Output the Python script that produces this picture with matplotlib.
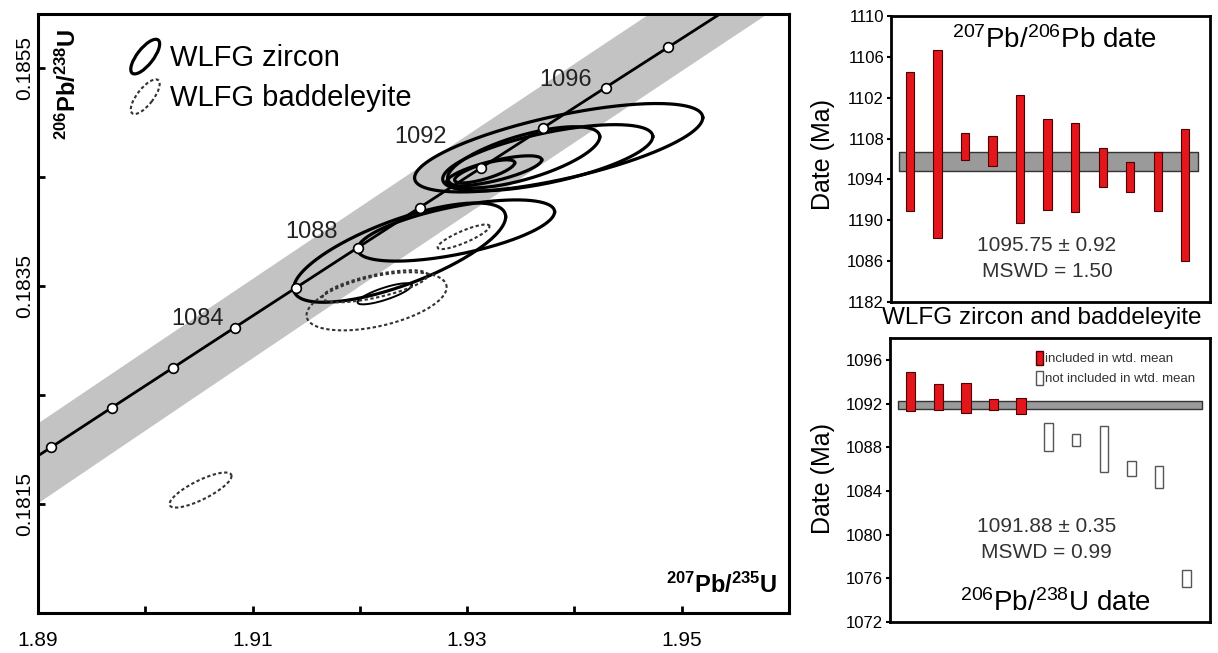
import numpy as np
import matplotlib
matplotlib.use('Agg')
import matplotlib.pyplot as plt
from matplotlib.patches import Ellipse, Patch
from matplotlib.legend_handler import HandlerPatch

plt.rcParams['font.family'] = ['Liberation Sans', 'DejaVu Sans']
plt.rcParams['mathtext.fontset'] = 'custom'
plt.rcParams['mathtext.rm'] = 'Liberation Sans'
plt.rcParams['mathtext.bf'] = 'Liberation Sans:bold'
plt.rcParams['mathtext.it'] = 'Liberation Sans:italic'

# 衰变常数 (1/yr)
LAMBDA_238 = 1.55125e-10
LAMBDA_235 = 9.8485e-10

# 谐和线上的年龄标记 (Ma)
marker_ages = [1078, 1080, 1082, 1084, 1086, 1088, 1090, 1092, 1094, 1096, 1098]
label_ages = [1084, 1088, 1092, 1096]

# 误差带：207Pb/235U 方向半宽，以及随年龄的中心偏移
band_half_width = 0.0055
band_shift_ages = [1079, 1100]
band_shift = [0.0008, -0.0012]

# 锆石误差椭圆：中心、半范围、相关系数
zr_x = [1.93853, 1.93751, 1.93527, 1.93252, 1.93163, 1.92371, 1.92897, 1.92231]
zr_y = [0.184772, 0.184680, 0.184684, 0.184560, 0.184555, 0.183809, 0.184012, 0.183431]
zr_sx = [0.01343, 0.00979, 0.00709, 0.00443, 0.00280, 0.00988, 0.00918, 0.00252]
zr_sy = [0.000406, 0.000304, 0.000281, 0.000138, 0.000106, 0.000456, 0.000281, 0.000097]
zr_rho = [0.68, 0.64, 0.67, 0.73, 0.74, 0.72, 0.61, 0.80]

# 斜锆石误差椭圆
bd_x = [1.92967, 1.92156, 1.92142, 1.90515]
bd_y = [0.183954, 0.183362, 0.183500, 0.181629]
bd_sx = [0.00242, 0.00653, 0.00490, 0.00289]
bd_sy = [0.000113, 0.000267, 0.000147, 0.000161]
bd_rho = [0.85, 0.48, 0.69, 0.80]

# 207Pb/206Pb 年龄 (Ma)
pb76_hi = [1104.5, 1106.7, 1098.5, 1098.3, 1102.3, 1099.9, 1099.5, 1097.1, 1095.7, 1096.7, 1098.9]
pb76_lo = [1090.9, 1088.3, 1095.9, 1095.3, 1089.7, 1091.0, 1090.8, 1093.3, 1092.8, 1090.9, 1086.0]
pb76_mean, pb76_err = 1095.75, 0.92
pb76_ticks = [1082, 1086, 1090, 1094, 1098, 1102, 1106, 1110]
pb76_ticklabels = ['1182', '1086', '1190', '1094', '1108', '1102', '1106', '1110']

# 206Pb/238U 年龄 (Ma)
pb68_hi = [1094.9, 1093.8, 1093.9, 1092.4, 1092.5, 1090.2, 1089.2, 1089.9, 1086.7, 1086.3, 1076.8]
pb68_lo = [1091.3, 1091.4, 1091.1, 1091.4, 1091.0, 1087.7, 1088.1, 1085.7, 1085.4, 1084.3, 1075.2]
pb68_used = [True, True, True, True, True, False, False, False, False, False, False]
pb68_mean, pb68_err = 1091.88, 0.35
pb68_ticks = [1072, 1076, 1080, 1084, 1088, 1092, 1096]

RED = '#e3161c'
RED_EDGE = '#4d0000'


def concordia(age_ma):
    t = np.asarray(age_ma) * 1e6
    return np.exp(LAMBDA_235 * t) - 1, np.exp(LAMBDA_238 * t) - 1


def error_ellipse(cx, cy, sx, sy, rho, n=240):
    t = np.linspace(0, 2 * np.pi, n)
    x = cx + sx * np.cos(t)
    y = cy + sy * (rho * np.cos(t) + np.sqrt(1 - rho ** 2) * np.sin(t))
    return x, y


class HandlerEllipse(HandlerPatch):
    def create_artists(self, legend, orig_handle, xdescent, ydescent,
                       width, height, fontsize, trans):
        center = (0.5 * width - xdescent, 0.5 * height - ydescent)
        p = Ellipse(xy=center, width=1.25 * height, height=0.48 * height, angle=52)
        self.update_prop(p, orig_handle, legend)
        p.set_transform(trans)
        return [p]


fig = plt.figure(figsize=(12.18, 6.53), dpi=100)

# ---------- 谐和图 ----------
ax = fig.add_axes([38 / 1218, 40 / 653, 751 / 1218, 599 / 653])
ax.set_xlim(1.89, 1.96)
ax.set_ylim(0.1805, 0.1860)

ages_fine = np.linspace(1074, 1103, 400)
cx_line, cy_line = concordia(ages_fine)
slope = (band_shift[1] - band_shift[0]) / (band_shift_ages[1] - band_shift_ages[0])
shift = band_shift[0] + slope * (ages_fine - band_shift_ages[0])
ax.fill_betweenx(cy_line, cx_line + shift - band_half_width, cx_line + shift + band_half_width,
                 color='#c3c3c3', lw=0, zorder=1)
ax.plot(cx_line, cy_line, color='black', lw=2, zorder=2)

for i in range(len(zr_x)):
    ex, ey = error_ellipse(zr_x[i], zr_y[i], zr_sx[i], zr_sy[i], zr_rho[i])
    lw = 1.4 if i == len(zr_x) - 1 else 2.3
    ax.plot(ex, ey, color='black', lw=lw, zorder=3)

for i in range(len(bd_x)):
    ex, ey = error_ellipse(bd_x[i], bd_y[i], bd_sx[i], bd_sy[i], bd_rho[i])
    ax.plot(ex, ey, color='#333333', lw=1.5, ls=(0, (1.6, 1.2)), zorder=3)

mx, my = concordia(marker_ages)
ax.plot(mx, my, 'o', ms=7, mfc='white', mec='black', mew=1.2, zorder=4)

label_offsets = [(-37, 9), (-46, 16), (-61, 31), (-40, 8)]
for age, off in zip(label_ages, label_offsets):
    lx, ly = concordia(age)
    ax.annotate(str(age), (lx, ly), xytext=off, textcoords='offset pixels',
                ha='center', va='center', fontsize=17, color='#222222', zorder=5)

ax.set_xticks([1.89, 1.91, 1.93, 1.95])
ax.set_xticks([1.90, 1.92, 1.94], minor=True)
ax.set_yticks([0.1815, 0.1835, 0.1855])
ax.set_yticks([0.1825, 0.1845], minor=True)
ax.set_yticklabels(['0.1815', '0.1835', '0.1855'], rotation=90, va='center')
ax.tick_params(which='both', direction='in', length=5, width=2, top=False, right=False)
ax.tick_params(axis='x', labelsize=15, pad=13)
ax.tick_params(axis='y', labelsize=15, pad=3)
for s in ax.spines.values():
    s.set_linewidth(2.2)

ax.text(0.04, 0.975, r'$^{\mathbf{206}}$Pb/$^{\mathbf{238}}$U', rotation=90,
        ha='center', va='top', fontsize=17, fontweight='bold', transform=ax.transAxes)
ax.text(0.985, 0.025, r'$^{\mathbf{207}}$Pb/$^{\mathbf{235}}$U',
        ha='right', va='bottom', fontsize=17, fontweight='bold', transform=ax.transAxes)

h_zr = Ellipse((0, 0), 1, 1, fill=False, edgecolor='black', lw=2.3)
h_bd = Ellipse((0, 0), 1, 1, fill=False, edgecolor='#333333', lw=1.5, ls=(0, (1.6, 1.2)))
ax.legend([h_zr, h_bd], ['WLFG zircon', 'WLFG baddeleyite'],
          handler_map={Ellipse: HandlerEllipse()}, loc='upper left',
          bbox_to_anchor=(0.1185, 0.957), frameon=False, fontsize=21,
          handlelength=1.25, handleheight=1.4, handletextpad=0.22,
          labelspacing=0.22, borderpad=0, borderaxespad=0)

# ---------- 207Pb/206Pb 年龄 ----------
idx = np.arange(1, len(pb76_hi) + 1)
ax2 = fig.add_axes([891 / 1218, 351 / 653, 319 / 1218, 286 / 653])
ax2.set_xlim(0.31, 11.9)
ax2.set_ylim(1082, 1110)
ax2.fill_between([0.6, 11.47], pb76_mean - pb76_err, pb76_mean + pb76_err,
                 facecolor='#9a9a9a', edgecolor='#333333', lw=1, zorder=1)
ax2.bar(idx, np.array(pb76_hi) - np.array(pb76_lo), bottom=pb76_lo, width=0.3,
        color=RED, edgecolor=RED_EDGE, lw=0.8, zorder=2)
ax2.set_xticks([])
ax2.set_yticks(pb76_ticks)
ax2.set_yticklabels(pb76_ticklabels)
ax2.tick_params(axis='y', direction='out', length=3, width=1.5, labelsize=12, pad=2)
for s in ax2.spines.values():
    s.set_linewidth(2)
ax2.text(0.511, 0.916, r'$^{207}$Pb/$^{206}$Pb date', ha='center', va='center',
         fontsize=20, transform=ax2.transAxes)
ax2.text(0.489, 0.199, f'{pb76_mean:.2f} ± {pb76_err:.2f}', ha='center', va='center',
         fontsize=15, color='#333333', transform=ax2.transAxes)
ax2.text(0.489, 0.108, 'MSWD = 1.50', ha='center', va='center',
         fontsize=15, color='#333333', transform=ax2.transAxes)
ax2.text(-0.213, 0.514, 'Date (Ma)', rotation=90, ha='center', va='center',
         fontsize=18, transform=ax2.transAxes)

fig.text(1042 / 1218, (653 - 318) / 653, 'WLFG zircon and baddeleyite',
         ha='center', va='center', fontsize=17.5)

# ---------- 206Pb/238U 年龄 ----------
ax3 = fig.add_axes([890 / 1218, 31 / 653, 320 / 1218, 284 / 653])
ax3.set_xlim(0.25, 11.85)
ax3.set_ylim(1072, 1098)
ax3.fill_between([0.54, 11.56], pb68_mean - pb68_err, pb68_mean + pb68_err,
                 facecolor='#9a9a9a', edgecolor='#333333', lw=1, zorder=1)
hi68 = np.array(pb68_hi)
lo68 = np.array(pb68_lo)
used = np.array(pb68_used)
ax3.bar(idx[used], hi68[used] - lo68[used], bottom=lo68[used], width=0.34,
        color=RED, edgecolor=RED_EDGE, lw=0.8, zorder=2)
ax3.bar(idx[~used], hi68[~used] - lo68[~used], bottom=lo68[~used], width=0.3,
        facecolor='white', edgecolor='#555555', lw=1, zorder=2)
ax3.set_xticks([])
ax3.set_yticks(pb68_ticks)
ax3.tick_params(axis='y', direction='out', length=3, width=1.5, labelsize=12, pad=2)
for s in ax3.spines.values():
    s.set_linewidth(2)
ax3.legend([Patch(facecolor=RED, edgecolor=RED_EDGE),
            Patch(facecolor='white', edgecolor='#555555')],
           ['included in wtd. mean', 'not included in wtd. mean'],
           loc='upper right', bbox_to_anchor=(0.955, 0.955), frameon=False,
           fontsize=9.5, handlelength=0.6, handleheight=1.3, handletextpad=0.15,
           labelspacing=0.4, borderpad=0, borderaxespad=0, labelcolor='#333333')
ax3.text(0.49, 0.335, f'{pb68_mean:.2f} ± {pb68_err:.2f}', ha='center', va='center',
         fontsize=15, color='#333333', transform=ax3.transAxes)
ax3.text(0.49, 0.243, 'MSWD = 0.99', ha='center', va='center',
         fontsize=15, color='#333333', transform=ax3.transAxes)
ax3.text(0.516, 0.067, r'$^{206}$Pb/$^{238}$U date', ha='center', va='center',
         fontsize=20, transform=ax3.transAxes)
ax3.text(-0.21, 0.507, 'Date (Ma)', rotation=90, ha='center', va='center',
         fontsize=18, transform=ax3.transAxes)

fig.savefig('out.png', dpi=100)
